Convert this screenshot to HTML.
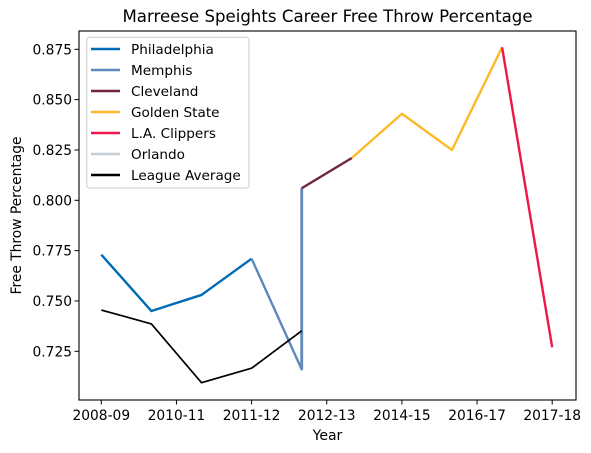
<!DOCTYPE html>
<html><head><meta charset="utf-8"><style>
body{margin:0;background:#fff;}
svg{display:block;font-family:"DejaVu Sans","Liberation Sans",sans-serif;}
</style></head><body>
<svg id="chart" width="591" height="453"></svg>
<script>
const xTickLabels=["2008-09","2010-11","2011-12","2012-13","2014-15","2016-17","2017-18"];
const xTickPos=[0,1.5,3,4.5,6,7.5,9];
const yTicks=[0.725,0.750,0.775,0.800,0.825,0.850,0.875];
const teamNames=["Philadelphia","Memphis","Cleveland","Golden State","L.A. Clippers","Orlando","League Average"];
const teamColors=["#006bb6","#5d88bb","#6f263d","#fdb927","#ed174c","#c4ced4","#000000"];
const philX=[0,1,2,3], philY=[0.773,0.745,0.753,0.771];
const orlX=[4,4], orlY=[0.716,0.806];
const memX=[3,4,4], memY=[0.771,0.716,0.806];
const cleX=[4,5], cleY=[0.806,0.821];
const gswX=[5,6,7,8], gswY=[0.821,0.843,0.825,0.876];
const lacX=[8,9], lacY=[0.876,0.727];
const avgX=[0,1,2,3,4], avgY=[0.7455,0.7386,0.7094,0.7166,0.7352];

const NS="http://www.w3.org/2000/svg";
const svg=document.getElementById('chart');
const L=79,R=576,T=31,B=400;
const xs=i=>101.3+50.1*i;
const ys=v=>200.3-(v-0.8)*2013.3;
function el(tag,attrs,parent){const e=document.createElementNS(NS,tag);for(const k in attrs)e.setAttribute(k,attrs[k]);(parent||svg).appendChild(e);return e;}

const title=el('text',{x:(L+R)/2,y:22,'text-anchor':'middle','font-size':'16.6'});
title.textContent="Marreese Speights Career Free Throw Percentage";



xTickPos.forEach((p,i)=>{
  const t=el('line',{x1:xs(p),x2:xs(p),y1:B,y2:B+4.5,stroke:'#000','stroke-width':1});
  
  
  const tx=el('text',{x:xs(p),y:B+20,'text-anchor':'middle','font-size':'13.8'});
  tx.textContent=xTickLabels[i];
  
  
});
yTicks.forEach(v=>{
  const t=el('line',{x1:L-4.5,x2:L,y1:ys(v),y2:ys(v),stroke:'#000','stroke-width':1});
  
  
  const tx=el('text',{x:L-7,y:ys(v)+5,'text-anchor':'end','font-size':'13.8'});
  tx.textContent=v.toFixed(3);
  
  
});
const xl=el('text',{x:(L+R)/2,y:440,'text-anchor':'middle','font-size':'14'});
xl.textContent="Year";


const yl=el('text',{x:0,y:0,'text-anchor':'middle','font-size':'13.8',transform:`translate(21,${(T+B)/2}) rotate(-90)`});
yl.textContent="Free Throw Percentage";



function series(X,Y,color,w,name){
  const p=el('polyline',{points:X.map((x,i)=>xs(x)+','+ys(Y[i])).join(' '),fill:'none',stroke:color,'stroke-width':w,'stroke-linejoin':'round'});
  
  
}
series(philX,philY,teamColors[0],2.4,'philadelphia-line');
series(orlX,orlY,teamColors[5],3.4,'orlando-line');
series(memX,memY,teamColors[1],2.4,'memphis-line');
series(cleX,cleY,teamColors[2],2.4,'cleveland-line');
series(gswX,gswY,teamColors[3],2.4,'golden-state-line');
series(lacX,lacY,teamColors[4],2.4,'clippers-line');
series(avgX,avgY,teamColors[6],1.7,'league-average-line');

const frame=el('rect',{x:L,y:T,width:R-L,height:B-T,fill:'none',stroke:'#000','stroke-width':1.1});



const lg=el('g',{});


el('rect',{x:86.7,y:37.3,width:162.3,height:150.7,rx:3,fill:'#fff','fill-opacity':0.8,stroke:'#ccc','stroke-width':1},lg);
teamNames.forEach((n,i)=>{
  const y=49+21*i;
  const g=el('g',{},lg);
  
  
  el('line',{x1:91,x2:120,y1:y,y2:y,stroke:teamColors[i],'stroke-width':2.4},g);
  const t=el('text',{x:131,y:y+5,'font-size':'13.6'},g);
  t.textContent=n;
});
</script>
</body></html>
